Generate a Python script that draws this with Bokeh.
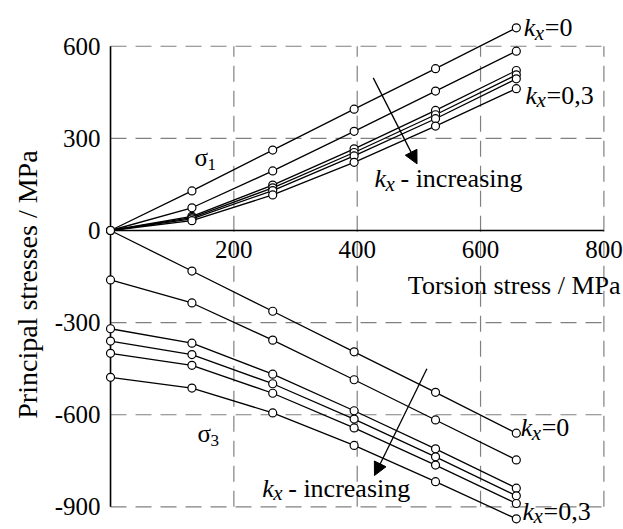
from bokeh.plotting import figure
from bokeh.models import Arrow, NormalHead, Range1d
from bokeh.core.properties import value
from bokeh.embed import file_html
from bokeh.resources import INLINE

# ---- data ----
tau = [0, 132, 263, 395, 527, 658]

sigma1_k0 = [0, 129, 262, 395, 527, 660]
sigma1_k1 = [0, 74, 194, 323, 454, 584]
sigma1_k2 = [0, 46, 148, 266, 391, 521]
sigma1_k3 = [0, 42, 139, 254, 377, 507]
sigma1_k4 = [0, 38, 130, 243, 364, 494]
sigma1_k5 = [0, 32, 116, 222, 340, 462]

sigma3_k0 = [0, -132, -263, -395, -527, -660]
sigma3_k1 = [-161, -236, -357, -486, -617, -747]
sigma3_k2 = [-320, -367, -468, -587, -711, -839]
sigma3_k3 = [-360, -404, -499, -614, -737, -864]
sigma3_k4 = [-400, -439, -530, -643, -764, -889]
sigma3_k5 = [-478, -513, -594, -700, -818, -939]

x_ticks = [200, 400, 600, 800]
x_tick_labels = ["200", "400", "600", "800"]
y_ticks = [-900, -600, -300, 0, 300, 600]
y_tick_labels = ["-900", "-600", "-300", "0", "300", "600"]
y_grid_ticks = [-900, -600, -300, 300, 600]
x_title = "Torsion stress / MPa"
y_title = "Principal stresses / MPa"

FONT = "Liberation Serif"

p = figure(width=623, height=529,
           x_range=Range1d(-178.4, 831.8), y_range=Range1d(-973.7, 749),
           x_axis_location=None, y_axis_location=None,
           output_backend="svg", toolbar_location=None,
           min_border_left=0, min_border_right=0,
           min_border_top=0, min_border_bottom=0)
p.outline_line_color = None
p.grid.visible = False

x_lo, x_hi = 0, max(x_ticks)
y_lo, y_hi = min(y_ticks), max(y_ticks)

# dashed grid box 0..800 x -900..600
p.segment(x0=x_ticks, y0=[y_lo] * len(x_ticks), x1=x_ticks, y1=[y_hi] * len(x_ticks),
          line_color="#808080", line_dash="16 9", line_width=1.2)
p.segment(x0=[x_lo] * len(y_grid_ticks), y0=y_grid_ticks,
          x1=[x_hi] * len(y_grid_ticks), y1=y_grid_ticks,
          line_color="#808080", line_dash="16 9", line_width=1.2)
# solid axis lines (x = 0 and y = 0)
p.segment(x0=[x_lo, x_lo], y0=[y_lo, 0], x1=[x_lo, x_hi], y1=[y_hi, 0],
          line_color="black", line_width=1.6)

# curves
all_series = [sigma1_k0, sigma1_k1, sigma1_k2, sigma1_k3, sigma1_k4, sigma1_k5,
              sigma3_k0, sigma3_k1, sigma3_k2, sigma3_k3, sigma3_k4, sigma3_k5]
for s in all_series:
    p.line(tau, s, line_color="black", line_width=1.3)
for s in all_series:
    p.scatter(tau, s, marker="circle", size=8, fill_color="white",
              line_color="black", line_width=1.2)

# tick labels
p.text(x=x_ticks, y=[-63] * len(x_ticks), text=x_tick_labels,
       text_font=value(FONT), text_font_size="25px", text_align="center",
       text_baseline="middle", text_color="black")
p.text(x=[0] * len(y_ticks), y=y_ticks, text=y_tick_labels, x_offset=-10,
       text_font=value(FONT), text_font_size="25px", text_align="right",
       text_baseline="middle", text_color="black")
# axis titles
p.text(x=[827], y=[-179], text=[x_title],
       text_font=value(FONT), text_font_size="26px", text_align="right",
       text_baseline="middle", text_color="black")
p.text(x=[-134], y=[-176], text=[y_title], angle=90, angle_units="deg",
       text_font=value(FONT), text_font_size="28px", text_align="center",
       text_baseline="middle", text_color="black")


def label(x, y, parts):
    for txt, size, style, dx, dy in parts:
        p.text(x=[x], y=[y], text=[txt], text_font=value(FONT),
               text_font_size=f"{size}px", text_font_style=style,
               x_offset=dx, y_offset=dy, text_align="left",
               text_baseline="middle", text_color="black")


def kx(x, y, rest, gap=21):
    label(x, y, [("k", 26, "italic", 0, 0),
                 ("x", 21, "italic", 11, 5),
                 (rest, 26, "normal", gap, 0)])


kx(670, 661, "=0")
kx(673, 440, "=0,3")
kx(665, -642, "=0")
kx(668, -915, "=0,3")
kx(428, 169, "- increasing", gap=26)
kx(246, -840, "- increasing", gap=26)

label(136, 238, [("σ", 25, "normal", 0, 0), ("1", 17, "normal", 13, 7)])
label(141, -661, [("σ", 25, "normal", 0, 0), ("3", 17, "normal", 13, 7)])

# arrows
p.add_layout(Arrow(end=NormalHead(size=13, fill_color="black", line_color="black"),
                   x_start=426, y_start=497, x_end=497, y_end=217,
                   line_color="black", line_width=1.3))
p.add_layout(Arrow(end=NormalHead(size=13, fill_color="black", line_color="black"),
                   x_start=513, y_start=-450, x_end=428, y_end=-798,
                   line_color="black", line_width=1.3))

open("out.html", "w").write(file_html(p, INLINE))
